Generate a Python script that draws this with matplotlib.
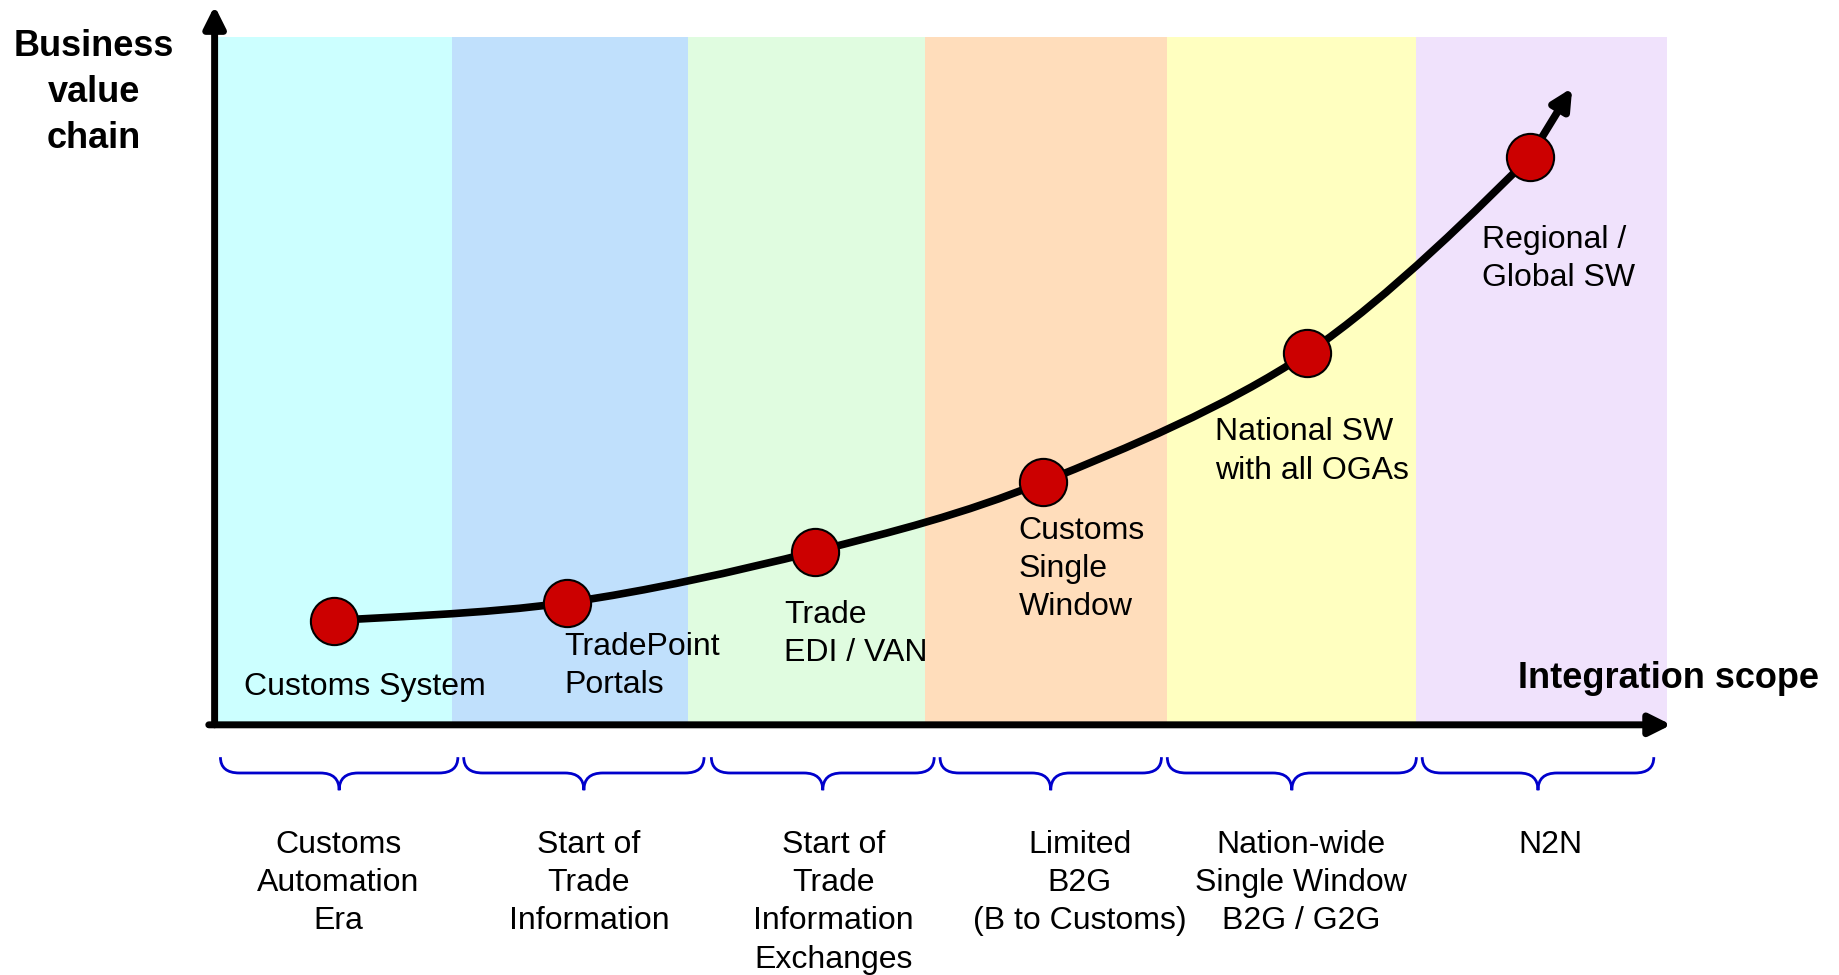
import matplotlib.pyplot as plt
from matplotlib.path import Path
from matplotlib.patches import PathPatch

plt.rcParams['font.family'] = ['Liberation Sans', 'DejaVu Sans']

# Stages along the integration scope (x: 0-100 of scope, y: 0-100 of value)
band_edges = [0.0, 16.3, 32.5, 48.8, 65.4, 82.5, 99.7]
band_colors = ['#CCFFFF', '#C0E0FC', '#E0FCE0', '#FFDDBB', '#FFFFC0', '#F0E2FC']
band_top = 95.6

milestone_names = ['Customs System', 'TradePoint\nPortals', 'Trade\nEDI / VAN',
                   'Customs\nSingle\nWindow', 'National SW\nwith all OGAs',
                   'Regional /\nGlobal SW']
milestone_x = [8.2, 24.2, 41.2, 56.9, 75.0, 90.3]
milestone_y = [14.5, 17.0, 24.1, 33.8, 51.7, 79.0]
trend_tip = (93.2, 88.6)

era_names = ['Customs\nAutomation\nEra', 'Start of\nTrade\nInformation',
             'Start of\nTrade\nInformation\nExchanges',
             'Limited\nB2G\n(B to Customs)',
             'Nation-wide\nSingle Window\nB2G / G2G', 'N2N']
era_label_x = [8.5, 25.7, 42.5, 59.4, 74.6, 91.7]
brace_spans = [(0.4, 16.7), (17.1, 33.6), (34.1, 49.4), (49.8, 65.0),
               (65.4, 82.5), (82.9, 98.8)]

# label anchors (left edge, vertical centre) for the milestones
label_pos = [(2.0, 5.2), (24.0, 8.2), (39.1, 12.6), (55.2, 21.7), (68.7, 38.0), (87.0, 64.8)]

fig = plt.figure(figsize=(18.39, 9.75), dpi=100)
ax = fig.add_axes([0.1167, 0.2566, 0.7921, 0.7374])
ax.set_xlim(0, 100)
ax.set_ylim(0, 100)
ax.axis('off')

# Background bands
for i, c in enumerate(band_colors):
    ax.axvspan(band_edges[i], band_edges[i + 1], ymin=0, ymax=band_top / 100,
               color=c, lw=0, zorder=0)

# Axes arrows
arrow_kw = dict(arrowstyle='-|>', lw=5, color='black', mutation_scale=32,
                shrinkA=0, shrinkB=0)
ax.annotate('', xy=(0, 100), xytext=(0, 0), arrowprops=arrow_kw,
            annotation_clip=False, zorder=5)
ax.annotate('', xy=(100, 0), xytext=(-0.4, 0), arrowprops=arrow_kw,
            annotation_clip=False, zorder=5)

# Smooth trend curve through the milestones (Catmull-Rom as cubic Bezier)
pts = list(zip(milestone_x, milestone_y))
P = [pts[0]] + pts + [trend_tip]
verts = [pts[0]]
codes = [Path.MOVETO]
for i in range(1, len(P) - 2):
    p0, p1, p2, p3 = P[i - 1], P[i], P[i + 1], P[i + 2]
    c1 = (p1[0] + (p2[0] - p0[0]) / 6, p1[1] + (p2[1] - p0[1]) / 6)
    c2 = (p2[0] - (p3[0] - p1[0]) / 6, p2[1] - (p3[1] - p1[1]) / 6)
    verts += [c1, c2, p2]
    codes += [Path.CURVE4] * 3
ax.add_patch(PathPatch(Path(verts, codes), fill=False, lw=5.5, color='black',
                       capstyle='round', zorder=3))
ax.annotate('', xy=trend_tip, xytext=pts[-1],
            arrowprops=dict(arrowstyle='-|>', lw=5.5, color='black',
                            mutation_scale=30, shrinkA=0, shrinkB=0), zorder=3)

ax.plot(milestone_x, milestone_y, 'o', ms=34, mfc='#CC0000', mec='black',
        mew=1.5, zorder=4)

for name, (lx, ly) in zip(milestone_names, label_pos):
    ax.text(lx, ly, name, ha='left', va='center', fontsize=23,
            linespacing=1.36, zorder=6)

# Braces under the x axis
b_top, b_mid, b_tip, r = -4.5, -6.7, -9.1, 1.3
for x0, x1 in brace_spans:
    xc = (x0 + x1) / 2
    v = [(x0, b_top), (x0, b_mid), (x0 + r, b_mid),
         (xc - r, b_mid), (xc, b_mid), (xc, b_tip),
         (xc, b_mid), (xc + r, b_mid),
         (x1 - r, b_mid), (x1, b_mid), (x1, b_top)]
    cd = [Path.MOVETO, Path.CURVE3, Path.CURVE3,
          Path.LINETO, Path.CURVE3, Path.CURVE3,
          Path.CURVE3, Path.CURVE3,
          Path.LINETO, Path.CURVE3, Path.CURVE3]
    ax.add_patch(PathPatch(Path(v, cd), fill=False, lw=2, color='#0000CC',
                           clip_on=False))

for name, x in zip(era_names, era_label_x):
    ax.text(x, -14.6, name, ha='center', va='top', fontsize=23,
            linespacing=1.36, clip_on=False)

ax.text(99.8, 6.5, 'Integration scope', ha='center', va='center',
        fontsize=26, fontweight='bold', clip_on=False)
fig.text(0.051, 0.905, 'Business\nvalue\nchain', ha='center', va='center',
         fontsize=26, fontweight='bold', linespacing=1.4)

fig.savefig('out.png', dpi=100, facecolor='white')
